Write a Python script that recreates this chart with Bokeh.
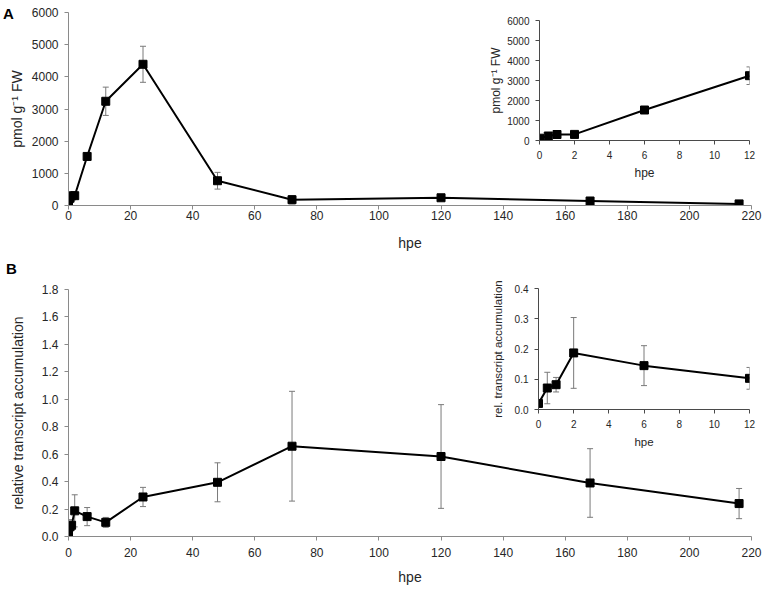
from bokeh.plotting import figure
from bokeh.models import ColumnDataSource, Whisker, TeeHead, FixedTicker, Range1d, PrintfTickFormatter, Div
from bokeh.layouts import column
from bokeh.embed import file_html
from bokeh.resources import INLINE

# ---------------- data ----------------
hpe = [0, 0.5, 1, 2, 6, 12, 24, 48, 72, 120, 168, 216]
metabolite = [115, 225, 300, 305, 1525, 3240, 4390, 770, 180, 240, 140, 50]
metabolite_err = [45, 50, 50, 55, 90, 440, 560, 260, 130, 50, 40, 25]
transcript = [0.020, 0.071, 0.082, 0.187, 0.145, 0.103, 0.288, 0.395, 0.658, 0.583, 0.390, 0.240]
transcript_err = [0.006, 0.052, 0.024, 0.117, 0.066, 0.036, 0.070, 0.142, 0.400, 0.378, 0.250, 0.110]
inset_points = 6  # points up to 12 hpe shown in the insets

main_x_ticks = [0, 20, 40, 60, 80, 100, 120, 140, 160, 180, 200, 220]
inset_x_ticks = [0, 2, 4, 6, 8, 10, 12]
metab_y_ticks = [0, 1000, 2000, 3000, 4000, 5000, 6000]
trans_y_ticks = [0.0, 0.2, 0.4, 0.6, 0.8, 1.0, 1.2, 1.4, 1.6, 1.8]
inset_trans_y_ticks = [0.0, 0.1, 0.2, 0.3, 0.4]

FONT = "Liberation Sans"
TXT = "#262626"
LEFT, RIGHT = 68, 12  # shared side borders (the column aligns them)


def source(xs, ys, es):
    return ColumnDataSource(dict(
        x=xs, y=ys,
        upper=[y + e for y, e in zip(ys, es)],
        lower=[y - e for y, e in zip(ys, es)],
    ))


def make(width, height, top, bottom, xr, yr, xticks, yticks, xlabel, ylabel,
         tick_font, label_font, axis_color, ylab_standoff, x_std, x_lab_std,
         y_fmt=None, margin=None):
    kw = {}
    if margin is not None:
        kw["margin"] = margin
    p = figure(width=width, height=height, x_range=Range1d(*xr), y_range=Range1d(*yr),
               output_backend="svg", toolbar_location=None,
               min_border_top=top, min_border_right=RIGHT, min_border_bottom=bottom,
               min_border_left=LEFT, **kw)
    p.xgrid.visible = False
    p.ygrid.visible = False
    p.outline_line_color = None
    p.background_fill_alpha = 0
    p.border_fill_alpha = 0

    p.xaxis.ticker = FixedTicker(ticks=xticks)
    p.yaxis.ticker = FixedTicker(ticks=yticks)
    if y_fmt:
        p.yaxis.formatter = PrintfTickFormatter(format=y_fmt)
    for ax in (p.xaxis, p.yaxis):
        ax.axis_line_color = axis_color
        ax.axis_line_width = 1
        ax.major_tick_line_color = axis_color
        ax.major_tick_in = 0
        ax.major_tick_out = 4
        ax.minor_tick_line_color = None
        ax.major_label_text_font = FONT
        ax.major_label_text_font_size = tick_font
        ax.major_label_text_color = TXT
        ax.axis_label_text_font = FONT
        ax.axis_label_text_font_size = label_font
        ax.axis_label_text_font_style = "normal"
        ax.axis_label_text_color = TXT
    p.xaxis.axis_label = xlabel
    p.yaxis.axis_label = ylabel
    p.xaxis.major_label_standoff = x_std
    p.xaxis.axis_label_standoff = x_lab_std
    p.yaxis.major_label_standoff = 6
    p.yaxis.axis_label_standoff = ylab_standoff
    return p


def draw(p, src, msize, lw):
    head = dict(size=6, line_color="#7a7a7a", line_width=1)
    p.add_layout(Whisker(source=src, base="x", upper="upper", lower="lower",
                         line_color="#7a7a7a", line_width=1,
                         upper_head=TeeHead(**head), lower_head=TeeHead(**head)))
    p.line("x", "y", source=src, line_color="black", line_width=lw)
    p.scatter("x", "y", source=src, marker="square", size=msize, color="black")


def panel_letter(letter, margin):
    return Div(text=letter, width=20, height=18, margin=margin,
               styles={"font-family": FONT, "font-size": "15px", "font-weight": "bold",
                       "line-height": "18px", "color": "black"})


# ---------------- panel A ----------------
divA = panel_letter("A", (5, 0, 0, 3))
figA = make(763, 258, 12, 53, (0, 220), (0, 6000), main_x_ticks, metab_y_ticks,
            "hpe", "pmol g\u207b\u00b9 FW", "12px", "14px", "#8a8a8a", 4, 1, 12,
            margin=(-23, 0, 0, 0))
draw(figA, source(hpe, metabolite, metabolite_err), 8, 2)

insetA = make(290, 169, 4, 45, (0, 12), (0, 6000), inset_x_ticks, metab_y_ticks,
              "hpe", "pmol g\u207b\u00b9 FW", "10px", "12px", "#4a4a4a", 1, 6, 4,
              margin=(-242, 0, 0, 471))
draw(insetA, source(hpe[:inset_points], metabolite[:inset_points], metabolite_err[:inset_points]), 8, 2)

# ---------------- panel B ----------------
insetB = make(291, 185, 18, 46, (0, 12), (0, 0.4), inset_x_ticks, inset_trans_y_ticks,
              "hpe", "rel. transcript accumulation", "10px", "11.5px", "#4a4a4a", 8, 6, 5,
              y_fmt="%.1f", margin=(85, 0, 0, 470))
draw(insetB, source(hpe[:inset_points], transcript[:inset_points], transcript_err[:inset_points]), 8, 2)

divB = panel_letter("B", (-195, 0, 0, 6))
figB = make(763, 331, 31, 53, (0, 220), (0, 1.8), main_x_ticks, trans_y_ticks,
            "hpe", "relative transcript accumulation", "12px", "14px", "#8a8a8a", 13, 7, 9,
            y_fmt="%.1f", margin=(-20, 0, 0, 0))
draw(figB, source(hpe, transcript, transcript_err), 8, 2)

layout = column(divA, figA, insetA, insetB, divB, figB)
open("out.html", "w").write(file_html(layout, INLINE))
